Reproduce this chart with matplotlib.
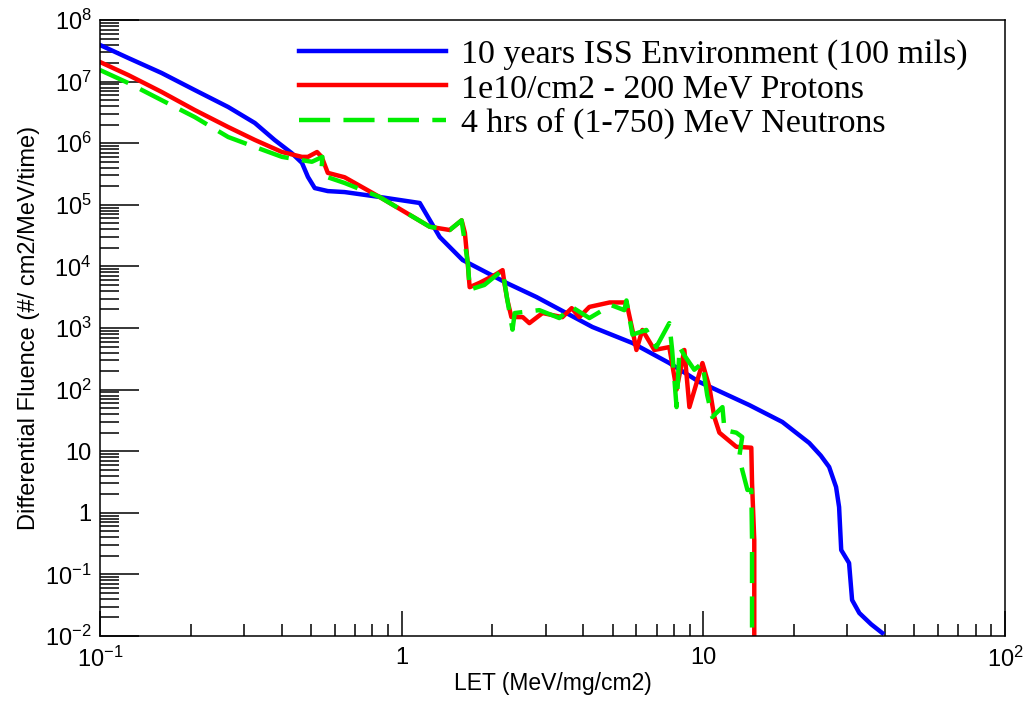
import numpy as np
import matplotlib
matplotlib.use("Agg")
import matplotlib.pyplot as plt
from matplotlib.ticker import LogLocator, FuncFormatter, NullFormatter

plt.rcParams['font.family'] = ['Liberation Sans', 'DejaVu Sans']
plt.rcParams['mathtext.default'] = 'regular'

# LET (MeV/mg/cm2) and differential fluence
iss_let = [0.100, 0.124, 0.160, 0.206, 0.266, 0.326, 0.379, 0.432, 0.467, 0.489, 0.515, 0.569,
           0.647, 0.845, 1.148, 1.239, 1.337, 1.592, 2.228, 2.799, 4.285, 5.82, 7.71, 9.70,
           14.19, 18.28, 22.44, 24.5, 26.12, 27.54, 28.18, 28.64, 30.41, 31.12, 32.89, 36.0, 39.17]
iss_flu = [3.93e7, 2.42e7, 1.38e7, 7.3e6, 3.87e6, 2.13e6, 1.13e6, 6.9e5, 4.8e5, 2.83e5, 1.87e5, 1.67e5,
           1.61e5, 1.34e5, 1.07e5, 5.66e4, 3.0e4, 1.27e4, 5.38e3, 3.18e3, 1.04e3, 570, 270, 133,
           56.2, 29.8, 13.6, 8.5, 5.55, 2.62, 1.24, 0.249, 0.153, 0.0384, 0.0236, 0.0155, 0.0112]

prot_let = [0.100, 0.124, 0.160, 0.206, 0.266, 0.326, 0.401, 0.467, 0.489, 0.524, 0.543, 0.569,
            0.647, 0.845, 1.239, 1.443, 1.58, 1.62, 1.655, 1.68, 1.81, 2.03, 2.16, 2.19, 2.24,
            2.31, 2.52, 2.65, 2.93, 3.41, 3.66, 3.88, 4.19, 4.89, 5.56, 5.82, 6.0, 6.28,
            6.88, 7.71, 8.15, 8.65, 8.99, 9.93, 10.47, 10.87, 11.3, 12.86, 14.42, 14.5,
            14.75, 14.75]
prot_flu = [2.08e7, 1.28e7, 6.8e6, 3.46e6, 1.83e6, 1.13e6, 7.2e5, 6.0e5, 6.0e5, 7.2e5, 6.0e5, 3.3e5,
            2.8e5, 1.34e5, 4.4e4, 3.9e4, 5.6e4, 3.5e4, 1.13e4, 4.6e3, 5.4e3, 7.2e3, 8.7e3, 5.4e3, 2.85e3,
            1.51e3, 1.5e3, 1.2e3, 1.75e3, 1.5e3, 2.1e3, 1.5e3, 2.2e3, 2.6e3, 2.6e3, 930, 440, 930,
            440, 490, 100, 440, 52, 270, 110, 36, 20, 11.8, 11.4, 3.05,
            0.36, 0.005]

neut_let = [0.100, 0.124, 0.160, 0.206, 0.266, 0.326, 0.401, 0.467, 0.504, 0.546, 0.543, 0.569,
            0.647, 0.845, 1.239, 1.443, 1.58, 1.66, 1.68, 1.88, 2.16, 2.24, 2.33, 2.37, 2.86,
            3.33, 3.66, 4.19, 4.95, 5.47, 5.56, 5.82, 6.47, 6.98, 7.71, 7.88, 8.15, 8.34,
            8.65, 9.33, 9.93, 10.3, 10.7, 11.57, 11.75, 12.86, 13.45, 13.15, 13.45, 14.0,
            14.42, 14.5, 14.5]
neut_flu = [1.54e7, 9.5e6, 5.0e6, 2.66e6, 1.26e6, 8.7e5, 6.0e5, 5.3e5, 5.0e5, 6.0e5, 4.1e5, 2.8e5,
            2.26e5, 1.34e5, 4.4e4, 3.9e4, 5.6e4, 1.05e4, 4.2e3, 5.0e3, 8.7e3, 2.85e3, 940, 1.75e3, 1.95e3,
            1.45e3, 2.2e3, 1.45e3, 2.35e3, 1.95e3, 2.8e3, 780, 930, 490, 1.2e3, 440, 52, 490,
            360, 210, 270, 81, 36, 52, 22, 20, 17, 8.0, 5.0, 2.35,
            2.35, 0.36, 0.005]

labels = ["10 years ISS Environment (100 mils)",
          "1e10/cm2 - 200 MeV Protons",
          "4 hrs of (1-750) MeV Neutrons"]

fig = plt.figure(figsize=(10.29, 7.02), dpi=100)
ax = fig.add_axes([0.0972, 0.094, 0.8795, 0.8775])

ax.plot(iss_let, iss_flu, color='#0000ff', lw=3.2, label=labels[0])
ax.plot(prot_let, prot_flu, color='#ff0000', lw=3.2, label=labels[1])
ax.plot(neut_let, neut_flu, color='#00ee00', lw=3.2, ls=(0, (7, 3)), label=labels[2])

ax.set_xscale('log')
ax.set_yscale('log')
ax.set_xlim(0.1, 100)
ax.set_ylim(1e-2, 1e8)


def fmt(v, pos):
    if np.isclose(v, 1):
        return "1"
    if np.isclose(v, 10):
        return "10"
    return "$10^{%d}$" % int(round(np.log10(v)))


for axis in (ax.xaxis, ax.yaxis):
    axis.set_major_locator(LogLocator(base=10, numticks=20))
    axis.set_minor_locator(LogLocator(base=10, subs=np.arange(2, 10), numticks=20))
    axis.set_major_formatter(FuncFormatter(fmt))
    axis.set_minor_formatter(NullFormatter())

ax.tick_params(which='both', direction='in', top=False, right=False, labelsize=17, width=1.1)
ax.tick_params(axis='x', which='major', length=18, pad=8)
ax.tick_params(axis='x', which='minor', length=9)
ax.tick_params(axis='y', which='major', length=28, pad=6)
ax.tick_params(axis='y', which='minor', length=14)
for s in ax.spines.values():
    s.set_linewidth(1.1)

ax.set_xlabel("LET (MeV/mg/cm2)", fontsize=16.5, labelpad=0)
ax.set_ylabel("Differential Fluence (#/ cm2/MeV/time)", fontsize=17, labelpad=4)

ax.legend(loc='upper right', bbox_to_anchor=(0.985, 1.008), frameon=False,
          prop={'family': ['Liberation Serif'], 'size': 24.5},
          handlelength=4.3, handletextpad=0.45, labelspacing=0.1, borderpad=0.2)

fig.savefig("out.png", dpi=100)
